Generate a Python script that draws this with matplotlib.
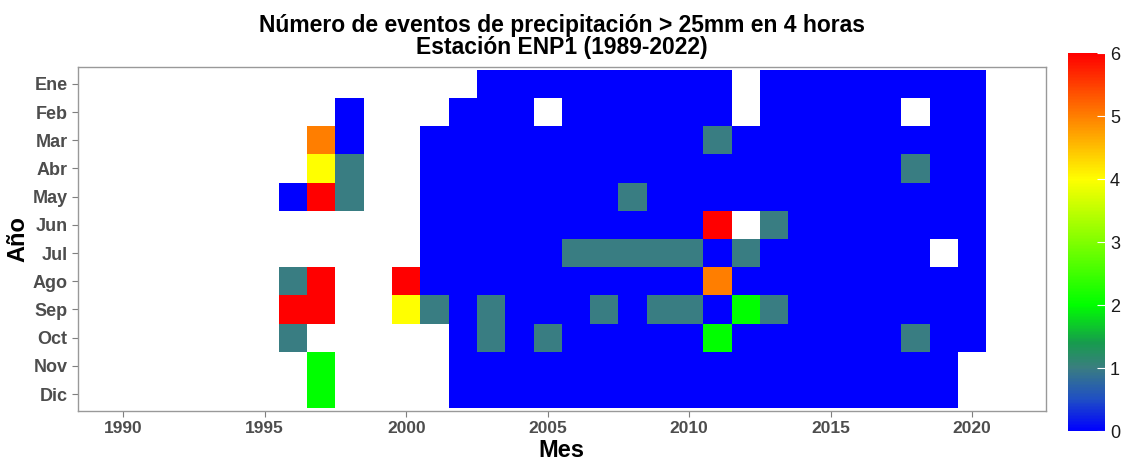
import numpy as np
import matplotlib
matplotlib.use("Agg")
import matplotlib.pyplot as plt
from matplotlib.colors import LinearSegmentedColormap

n = np.nan

# Eventos por mes (filas) y año (columnas 1989-2022)
years = list(range(1989, 2023))
months = ["Ene", "Feb", "Mar", "Abr", "May", "Jun",
          "Jul", "Ago", "Sep", "Oct", "Nov", "Dic"]

ene = [n] * 14 + [0] * 9 + [n] + [0] * 8 + [n] * 2
feb = [n] * 9 + [0] + [n] * 3 + [0] * 3 + [n] + [0] * 6 + [n] + [0] * 5 + [n] + [0] * 2 + [n] * 2
mar = [n] * 8 + [5, 0] + [n] * 2 + [0] * 10 + [1] + [0] * 9 + [n] * 2
abr = [n] * 8 + [4, 1] + [n] * 2 + [0] * 17 + [1] + [0] * 2 + [n] * 2
may = [n] * 7 + [0, 6, 1] + [n] * 2 + [0] * 7 + [1] + [0] * 12 + [n] * 2
jun = [n] * 12 + [0] * 10 + [6, n, 1] + [0] * 7 + [n] * 2
jul = [n] * 12 + [0] * 5 + [1] * 5 + [0, 1] + [0] * 6 + [n, 0] + [n] * 2
ago = [n] * 7 + [1, 6] + [n] * 2 + [6] + [0] * 10 + [5] + [0] * 9 + [n] * 2
sep = [n] * 7 + [6, 6] + [n] * 2 + [4, 1, 0, 1] + [0] * 3 + [1, 0, 1, 1, 0, 2, 1] + [0] * 7 + [n] * 2
octu = [n] * 7 + [1] + [n] * 5 + [0, 1, 0, 1] + [0] * 5 + [2] + [0] * 6 + [1] + [0] * 2 + [n] * 2
nov = [n] * 8 + [2] + [n] * 4 + [0] * 18 + [n] * 3
dic = [n] * 8 + [2] + [n] * 4 + [0] * 18 + [n] * 3

counts = np.array([ene, feb, mar, abr, may, jun, jul, ago, sep, octu, nov, dic], dtype=float)

# Escala de color: azul -> gris verdoso -> verde -> amarillo -> rojo
cmap = LinearSegmentedColormap.from_list(
    "lluvia",
    [(0.0, "#0000ff"), (0.5 / 6, "#1f4fc4"), (1 / 6, "#3a7e80"),
     (1.4 / 6, "#169c4c"), (2 / 6, "#00ff00"), (3 / 6, "#80ff00"),
     (4 / 6, "#ffff00"), (5 / 6, "#ff8000"), (1.0, "#ff0000")])

plt.rcParams["font.family"] = ["Liberation Sans", "DejaVu Sans"]

fig = plt.figure(figsize=(11.28, 4.61), dpi=100)
ax = fig.add_axes([0.0691, 0.1085, 0.858, 0.7462])
cax = fig.add_axes([0.9468, 0.065, 0.0328, 0.82])

x_edges = np.array(years + [years[-1] + 1]) - 0.5
y_edges = np.arange(len(months) + 1) + 0.5
mesh = ax.pcolormesh(x_edges, y_edges, np.ma.masked_invalid(counts),
                     cmap=cmap, vmin=0, vmax=6)

ax.set_xlim(1988.4, 2022.6)
ax.set_ylim(12.6, 0.4)
ax.set_xticks([1990, 1995, 2000, 2005, 2010, 2015, 2020])
ax.set_yticks(np.arange(1, 13))
ax.set_yticklabels(months)
ax.tick_params(colors="#7f7f7f", labelcolor="#4d4d4d", length=4, width=0.8,
               labelsize=12.5)
ax.tick_params(axis="y", labelsize=13)
for lab in ax.get_xticklabels() + ax.get_yticklabels():
    lab.set_fontweight("bold")
for sp in ax.spines.values():
    sp.set_color("#999999")
    sp.set_linewidth(1.0)

ax.set_xlabel("Mes", fontsize=17, fontweight="bold", labelpad=2)
ax.set_ylabel("Año", fontsize=17, fontweight="bold", labelpad=2)
ax.set_title("Número de eventos de precipitación > 25mm en 4 horas\nEstación ENP1 (1989-2022)",
             fontsize=16.5, fontweight="bold", linespacing=0.95, pad=9)

cbar = fig.colorbar(mesh, cax=cax, ticks=range(0, 7))
cbar.outline.set_visible(False)
cax.tick_params(labelsize=13, colors="white", labelcolor="#1a1a1a",
                direction="in", length=6, width=0.8)

fig.savefig("out.png", dpi=100)
